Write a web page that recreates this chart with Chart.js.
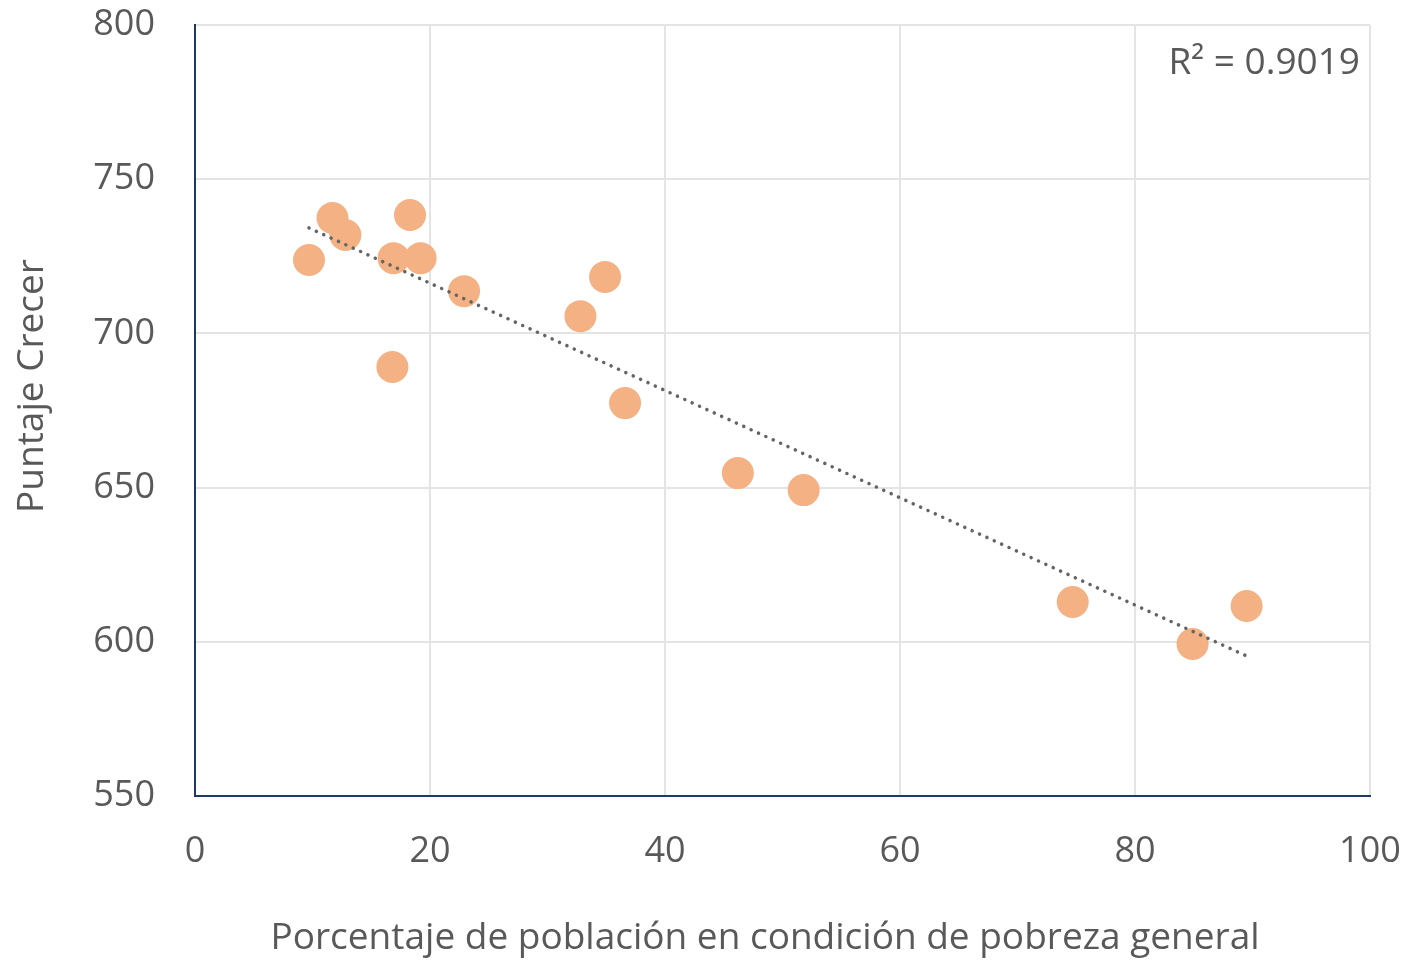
<!DOCTYPE html>
<html>
<head>
<meta charset="utf-8">
<script src="https://cdn.jsdelivr.net/npm/chart.js@4.4.0/dist/chart.umd.min.js"></script>
<style>
html,body{margin:0;padding:0;background:#fff;}
#wrap{width:1412px;height:960px;position:relative;}
</style>
</head>
<body>
<div id="wrap"><canvas id="c" width="1412" height="960"></canvas></div>
<script>
// Data
const povertyPct = [9.7, 11.7, 12.8, 16.9, 16.8, 18.3, 19.2, 22.9, 32.8, 34.9, 36.6, 46.2, 51.8, 74.7, 84.9, 89.5];
const crecerScore = [723.8, 737.4, 731.9, 724.4, 689.1, 738.4, 724.4, 713.7, 705.6, 718.3, 677.4, 654.7, 649.2, 612.9, 599.3, 611.6];
const trendX = [9.7, 89.5];
const trendY = [734.2, 595.4];
const r2Label = 'R² = 0.9019';
const xTitle = 'Porcentaje de población en condición de pobreza general';
const yTitle = 'Puntaje Crecer';
const xTicks = [0, 20, 40, 60, 80, 100];
const yTicks = [550, 600, 650, 700, 750, 800];

const FONT = "'Open Sans', 'Noto Sans', sans-serif";
const TXT = '#595959';

const scatterPts = povertyPct.map((x, i) => ({x: x, y: crecerScore[i]}));
const trendPts = trendX.map((x, i) => ({x: x, y: trendY[i]}));

const textPlugin = {
  id: 'texts',
  afterDraw(chart) {
    const ctx = chart.ctx;
    const a = chart.chartArea;
    ctx.save();
    ctx.fillStyle = TXT;
    ctx.textBaseline = 'middle';
    // R² annotation
    ctx.font = '37px ' + FONT;
    ctx.textAlign = 'right';
    ctx.fillText(r2Label, a.right - 10, 63);
    // X axis title
    ctx.font = '37px ' + FONT;
    ctx.textAlign = 'center';
    ctx.fillText(xTitle, 765, 938);
    // Y axis title
    ctx.translate(32, 386);
    ctx.rotate(-Math.PI / 2);
    ctx.fillText(yTitle, 0, 0);
    ctx.restore();
  }
};

function zeroPad(s) { s.paddingTop = 0; s.paddingBottom = 0; s.paddingLeft = 0; s.paddingRight = 0; }

new Chart(document.getElementById('c'), {
  type: 'scatter',
  data: {
    datasets: [
      {
        type: 'line',
        data: trendPts,
        borderColor: '#656565',
        borderWidth: 3.5,
        borderDash: [0.1, 8],
        borderCapStyle: 'round',
        pointRadius: 0,
        fill: false,
        order: 0
      },
      {
        data: scatterPts,
        backgroundColor: '#F4B183',
        borderWidth: 0,
        pointRadius: 16,
        pointHoverRadius: 16,
        order: 1
      }
    ]
  },
  options: {
    responsive: false,
    animation: false,
    events: [],
    layout: {padding: {top: 25, right: 42, bottom: 0, left: 0}},
    plugins: {legend: {display: false}, tooltip: {enabled: false}},
    scales: {
      x: {
        type: 'linear',
        min: 0, max: 100,
        afterBuildTicks(s) { s.ticks = xTicks.map(v => ({value: v})); },
        afterFit(s) { s.height = 164; zeroPad(s); },
        grid: {color: '#e4e4e4', lineWidth: 2, drawTicks: false},
        border: {color: '#1F3864', width: 2},
        ticks: {font: {family: FONT, size: 36}, color: TXT, padding: 34},
        title: {display: false}
      },
      y: {
        type: 'linear',
        min: 550, max: 800,
        afterBuildTicks(s) { s.ticks = yTicks.map(v => ({value: v})); },
        afterFit(s) { s.width = 195; zeroPad(s); },
        grid: {color: '#e4e4e4', lineWidth: 2, drawTicks: false},
        border: {color: '#1F3864', width: 2},
        ticks: {font: {family: FONT, size: 36}, color: TXT, padding: 40},
        title: {display: false}
      }
    }
  },
  plugins: [textPlugin]
});
</script>
</body>
</html>
